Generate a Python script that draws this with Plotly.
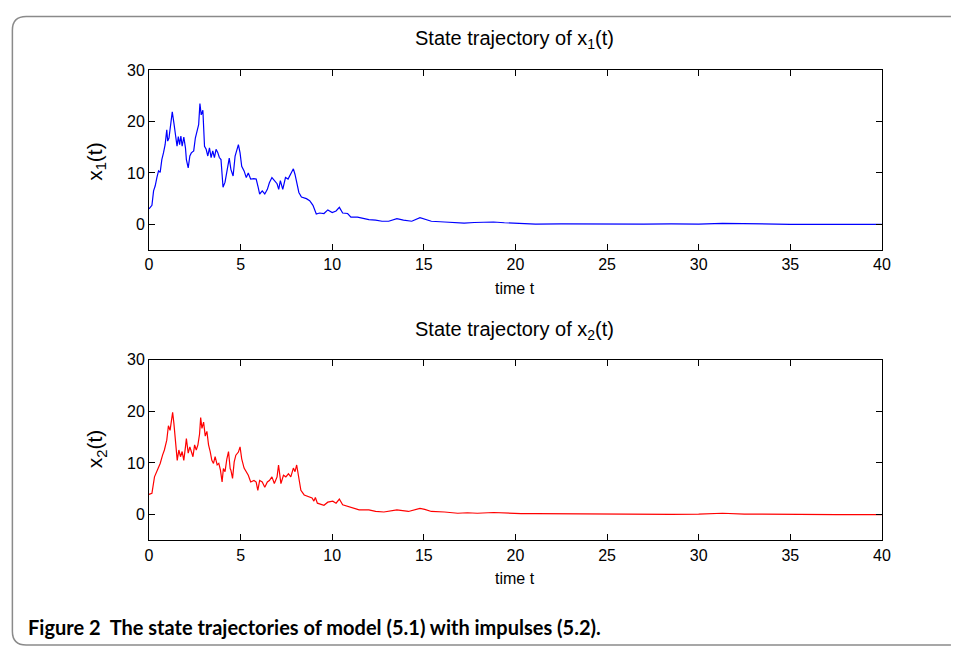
import plotly.graph_objects as go

# ---------------- data ----------------
t1 = [0, 0.16, 0.25, 0.34, 0.43, 0.52, 0.61, 0.7, 0.79, 0.88,
      0.97, 1.02, 1.09, 1.2, 1.27, 1.36, 1.45, 1.53, 1.6, 1.67,
      1.74, 1.81, 1.9, 1.99, 2.04, 2.14, 2.23, 2.31, 2.44, 2.53,
      2.64, 2.71, 2.78, 2.85, 2.94, 3.03, 3.12, 3.21, 3.3, 3.39,
      3.48, 3.57, 3.66, 3.75, 3.84, 3.93, 3.99, 4.04, 4.15, 4.25,
      4.38, 4.47, 4.59, 4.7, 4.79, 4.88, 4.97, 5.06, 5.19, 5.31,
      5.42, 5.55, 5.73, 5.85, 5.96, 6.04, 6.18, 6.32, 6.46, 6.57,
      6.71, 6.86, 6.99, 7.08, 7.17, 7.3, 7.45, 7.59, 7.72, 7.88,
      7.97, 8.06, 8.18, 8.32, 8.59, 8.77, 8.95, 9.13, 9.31, 9.55,
      9.76, 10.0, 10.21, 10.39, 10.57, 10.84, 11.02, 11.38, 11.65, 12.0,
      12.37, 12.72, 13.08, 13.53, 13.89, 14.34, 14.79, 15.05, 15.41, 16.13,
      16.67, 17.2, 17.75, 18.47, 18.8, 19.4, 20.3, 21.1, 22.5, 24.0,
      25.5, 27.0, 28.5, 30.0, 31.3, 32.5, 34.0, 35.0, 37.5, 40.0]
x1 = [3.0, 3.7, 6.5, 7.5, 9.1, 10.4, 10.1, 12.6, 13.9, 15.5,
      18.4, 16.2, 16.8, 20.3, 21.9, 19.7, 17.4, 15.2, 17.1, 15.5,
      17.2, 15.2, 17.0, 14.9, 12.6, 11.0, 13.3, 13.9, 14.3, 16.8,
      18.4, 19.4, 23.5, 21.3, 22.2, 15.2, 14.6, 13.3, 14.9, 13.0,
      14.3, 13.0, 14.6, 14.0, 13.0, 12.6, 9.7, 7.2, 8.2, 10.1,
      12.9, 10.7, 9.4, 13.3, 14.2, 15.5, 13.9, 11.3, 10.4, 9.1,
      10.0, 8.8, 8.9, 8.8, 7.2, 5.9, 6.5, 5.9, 6.8, 8.1,
      9.1, 8.5, 7.9, 6.8, 8.5, 6.8, 9.1, 8.8, 9.7, 10.8,
      9.7, 8.1, 6.2, 5.3, 5.0, 4.6, 3.7, 2.0, 2.2, 2.1,
      2.8, 2.3, 2.6, 3.3, 2.2, 2.1, 1.4, 1.4, 1.2, 0.9,
      0.8, 0.6, 0.6, 1.1, 0.8, 0.6, 1.3, 1.0, 0.6, 0.45,
      0.3, 0.25, 0.35, 0.35, 0.45, 0.3, 0.1, 0.05, 0.1, 0.05,
      0.1, 0.05, 0.08, 0.05, 0.2, 0.1, 0.05, 0.0, 0.0, 0.0]

t2 = [0, 0.16, 0.3, 0.39, 0.48, 0.61, 0.74, 0.84, 0.97, 1.06,
      1.15, 1.24, 1.29, 1.36, 1.45, 1.54, 1.63, 1.72, 1.81, 1.9,
      1.99, 2.04, 2.14, 2.23, 2.31, 2.4, 2.49, 2.58, 2.67, 2.76,
      2.82, 2.89, 2.98, 3.07, 3.16, 3.25, 3.34, 3.43, 3.52, 3.61,
      3.72, 3.81, 3.9, 3.99, 4.06, 4.15, 4.25, 4.34, 4.43, 4.47,
      4.56, 4.65, 4.74, 4.88, 4.97, 5.06, 5.19, 5.31, 5.42, 5.55,
      5.73, 5.85, 5.94, 6.04, 6.18, 6.32, 6.46, 6.57, 6.71, 6.84,
      6.99, 7.07, 7.2, 7.34, 7.47, 7.61, 7.74, 7.88, 7.97, 8.06,
      8.18, 8.29, 8.47, 8.68, 8.9, 9.0, 9.08, 9.19, 9.4, 9.55,
      9.76, 10.03, 10.21, 10.39, 10.57, 10.93, 11.47, 12.0, 12.37, 12.82,
      13.53, 14.16, 14.79, 15.05, 15.41, 16.13, 16.85, 17.38, 17.92, 18.8,
      19.5, 20.3, 21.1, 22.5, 24.0, 25.5, 27.0, 28.5, 30.0, 31.3,
      32.5, 34.0, 35.0, 37.5, 40.0]
x2 = [3.9, 4.1, 7.3, 8.0, 8.9, 9.9, 11.5, 12.5, 14.4, 17.2,
      16.3, 18.5, 19.8, 17.6, 14.7, 10.5, 12.5, 11.2, 12.2, 10.5,
      13.1, 14.7, 11.9, 13.1, 12.2, 11.2, 13.5, 12.5, 13.5, 15.6,
      18.8, 16.7, 17.9, 15.2, 16.1, 13.5, 12.2, 10.5, 9.9, 11.2,
      9.6, 9.9, 8.6, 6.3, 8.9, 8.3, 10.8, 12.2, 8.9, 8.6,
      7.0, 10.2, 11.5, 12.1, 13.1, 10.8, 9.0, 8.3, 7.6, 6.3,
      6.6, 6.3, 4.7, 6.6, 6.3, 5.3, 6.3, 6.6, 7.3, 6.0,
      7.3, 9.6, 6.0, 7.6, 7.3, 7.9, 7.3, 9.0, 8.3, 9.6,
      6.6, 4.7, 3.8, 3.5, 3.2, 2.6, 3.3, 2.2, 1.9, 1.8,
      2.4, 2.6, 2.2, 3.0, 1.9, 1.5, 0.9, 0.9, 0.6, 0.5,
      0.9, 0.6, 1.2, 1.0, 0.6, 0.5, 0.25, 0.35, 0.25, 0.4,
      0.25, 0.2, 0.2, 0.15, 0.1, 0.08, 0.1, 0.05, 0.08, 0.25,
      0.1, 0.05, 0.0, 0.0, 0.0]

x_ticks = [0, 5, 10, 15, 20, 25, 30, 35, 40]
y_ticks = [0, 10, 20, 30]
titles = ["State trajectory of x<sub>1</sub>(t)", "State trajectory of x<sub>2</sub>(t)"]
ylabels = ["x<sub>1</sub>(t)", "x<sub>2</sub>(t)"]
xlabel = "time t"
caption = "Figure 2  The state trajectories of model (5.1) with impulses (5.2)."

# ---------------- layout helpers ----------------
W, H = 954, 651
def px(x): return x / W
def py(y): return 1 - y / H

FONT = "Liberation Sans, Arial, Helvetica, sans-serif"

fig = go.Figure()
fig.add_trace(go.Scatter(x=t1, y=x1, mode="lines", line=dict(color="#0000ff", width=1.2),
                         xaxis="x", yaxis="y", showlegend=False))
fig.add_trace(go.Scatter(x=t2, y=x2, mode="lines", line=dict(color="#ff0000", width=1.2),
                         xaxis="x2", yaxis="y2", showlegend=False))

axis_common = dict(showline=True, linecolor="black", linewidth=1, mirror="allticks",
                   ticks="inside", ticklen=6, tickcolor="black", showgrid=False,
                   zeroline=False, tickfont=dict(family=FONT, size=16, color="black"))

fig.update_layout(
    width=W, height=H, margin=dict(l=0, r=0, t=0, b=0),
    paper_bgcolor="white", plot_bgcolor="white",
    xaxis=dict(domain=[px(147), px(890)], range=[0, 40], tickvals=x_ticks, anchor="y", **axis_common),
    yaxis=dict(domain=[py(245), py(63)], range=[-5, 30], tickvals=y_ticks, anchor="x", **axis_common),
    xaxis2=dict(domain=[px(147), px(890)], range=[0, 40], tickvals=x_ticks, anchor="y2", **axis_common),
    yaxis2=dict(domain=[py(539), py(356)], range=[-5, 30], tickvals=y_ticks, anchor="x2", **axis_common),
)

ann = []
for title, ty in zip(titles, [32, 327]):
    ann.append(dict(text=title, x=px(518), y=py(ty), xref="paper", yref="paper",
                    showarrow=False, xanchor="center", yanchor="middle",
                    font=dict(family=FONT, size=20, color="black")))
for lab, ly in zip(ylabels, [155, 446]):
    ann.append(dict(text=lab, x=px(93), y=py(ly), xref="paper", yref="paper",
                    showarrow=False, xanchor="center", yanchor="middle", textangle=-90,
                    font=dict(family=FONT, size=21, color="black")))
for xy in [284, 578]:
    ann.append(dict(text=xlabel, x=px(518), y=py(xy), xref="paper", yref="paper",
                    showarrow=False, xanchor="center", yanchor="middle",
                    font=dict(family=FONT, size=16, color="black")))
ann.append(dict(text="<b>" + caption + "</b>", x=px(22), y=py(627), xref="paper", yref="paper",
                showarrow=False, xanchor="left", yanchor="middle",
                font=dict(family="Lato, Liberation Sans, sans-serif", size=20, color="black")))
fig.update_layout(annotations=ann)

# rounded frame around the figure (open on the right, as in the reference)
r = 14
x0, y0, x1p, y1p = 8.5, 8.5, 960, 645
path = (f"M {px(x1p)},{py(y0)} L {px(x0 + r)},{py(y0)} "
        f"Q {px(x0)},{py(y0)} {px(x0)},{py(y0 + r)} "
        f"L {px(x0)},{py(y1p - r)} Q {px(x0)},{py(y1p)} {px(x0 + r)},{py(y1p)} "
        f"L {px(x1p)},{py(y1p)}")
fig.add_shape(type="path", path=path, xref="paper", yref="paper",
              line=dict(color="#8a8a8a", width=1.5))

# remove the browser's default page margin so the figure sits at the window origin
fig.write_html("out.html",
               config={"displayModeBar": False},
               post_script="document.body.style.margin='0';document.body.style.overflow='hidden';")
